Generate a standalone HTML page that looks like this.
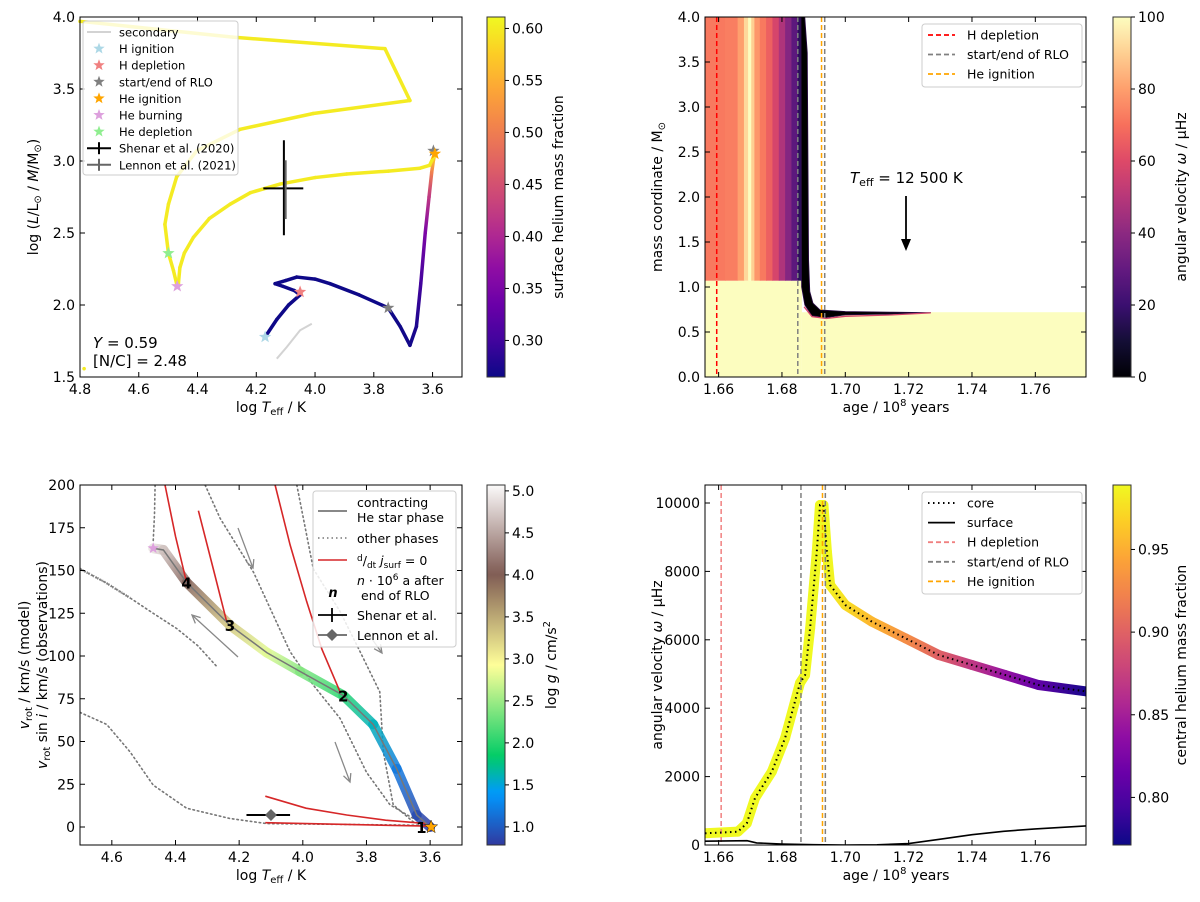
<!DOCTYPE html>
<html><head><meta charset="utf-8"><style>
html,body{margin:0;padding:0;background:#fff;}
svg{display:block;font-family:"DejaVu Sans","Liberation Sans",sans-serif;}
</style></head><body>
<svg id="fig" width="1200" height="902" viewBox="0 0 1200 902" xmlns="http://www.w3.org/2000/svg">
<defs id="defs"></defs>
<g id="gA"></g>
<g id="gB"></g>
<g id="gC"></g>
<g id="gD"></g>
</svg>
<script>
// ---------- Panel A data ----------
var aT=[4.170,4.13,4.09,4.051,4.07,4.11,4.136,4.10,4.062,4.0,3.949,3.85,3.751,3.71,3.677,3.655,3.64,3.625,3.612,3.603,3.597,3.592,3.61,3.643,3.75,3.892,4.0,4.119,4.22,4.289,4.36,4.414,4.445,4.46,4.465,4.469,4.482,4.499,4.511,4.499,4.471,4.403,4.255,4.006,3.677,3.762,4.28,4.8];
var aL=[1.778,1.90,2.00,2.07,2.10,2.13,2.148,2.17,2.194,2.18,2.148,2.07,1.98,1.85,1.72,1.85,2.15,2.5,2.75,2.92,3.005,3.05,2.97,2.95,2.93,2.91,2.885,2.84,2.78,2.70,2.60,2.47,2.36,2.26,2.15,2.13,2.24,2.36,2.56,2.70,2.89,3.07,3.22,3.33,3.42,3.78,3.86,3.97];
var aY=[0.265,0.265,0.265,0.265,0.265,0.265,0.265,0.265,0.265,0.265,0.265,0.265,0.265,0.266,0.268,0.275,0.30,0.35,0.42,0.50,0.56,0.60,0.60,0.60,0.60,0.60,0.60,0.60,0.60,0.60,0.60,0.60,0.60,0.60,0.60,0.60,0.60,0.60,0.60,0.60,0.60,0.60,0.60,0.60,0.60,0.60,0.60,0.60];
var aSecT=[4.130,4.096,4.051,4.011];
var aSecL=[1.627,1.708,1.824,1.87];
var aMarkNames=["H ignition","H depletion","start/end of RLO","start/end of RLO","He ignition","He burning","He depletion"];
var aMarkT=[4.170,4.051,3.751,3.597,3.592,4.469,4.499];
var aMarkL=[1.778,2.09,1.98,3.07,3.05,2.13,2.36];
var aMarkColors=["#add8e6","#f08080","#808080","#808080","#ffa500","#dda0dd","#90ee90"];
var aXTicks=[4.8,4.6,4.4,4.2,4.0,3.8,3.6];
var aYTicks=[1.5,2.0,2.5,3.0,3.5,4.0];
var aCbTicks=[0.30,0.35,0.40,0.45,0.50,0.55,0.60];
// ---------- Panel B data ----------
var bEdges=[1.6557,1.662,1.666,1.668,1.6693,1.6703,1.6713,1.673,1.675,1.677,1.679,1.681,1.683,1.685,1.6863];
var bOmega=[72,73,80,92,100,90,78,72,66,58,48,38,28,16];
var bStripMass=1.07;
var bLowMass=0.72;
var bSlAge=[1.6860,1.6872,1.6880,1.6884,1.6888,1.6898,1.692,1.700,1.715,1.727,1.715,1.700,1.694,1.6895,1.6872,1.6862];
var bSlMass=[4.0,4.0,3.6,1.3,0.95,0.82,0.745,0.728,0.72,0.715,0.70,0.69,0.66,0.68,0.80,1.0];
var bVLines=[1.6594,1.6850,1.6935,1.6925];
var bVColors=["#ff0000","#808080","#808080","#ffa500"];
var bXTicks=[1.66,1.68,1.70,1.72,1.74,1.76];
var bYTicks=[0,0.5,1.0,1.5,2.0,2.5,3.0,3.5,4.0];
var bCbTicks=[0,20,40,60,80,100];
// ---------- Panel C data ----------
var cT=[4.470,4.438,4.365,4.229,4.113,4.009,3.873,3.779,3.705,3.642,3.600];
var cV=[163,162,143,118,102,91,77,60,34,7,0];
var cG=[4.9,4.7,4.05,3.3,2.8,2.4,2.0,1.6,1.2,0.9,0.8];
var cNumT=[3.615,3.873,4.229,4.365];
var cNumV=[0,77,118,143];
var cNumLabels=["1","2","3","4"];
var cRed1T=[4.433,4.40,4.365], cRed1V=[200,170,143];
var cRed2T=[4.328,4.28,4.239], cRed2V=[185,150,120];
var cRed3T=[4.087,4.04,3.988,3.94,3.883], cRed3V=[200,165,132,104,79];
var cRed4T=[4.118,3.99,3.862,3.74,3.611], cRed4V=[18,11,7,4,2];
var cRed5T=[4.118,3.611], cRed5V=[2.5,0.5];
var cDot1T=[4.464,4.466,4.47], cDot1V=[200,183,167];
var cDot2T=[4.7,4.62,4.543,4.47,4.396,4.33,4.271], cDot2V=[151,143,134,125,116,106,94];
var cDot3T=[4.307,4.26,4.155,4.04,3.967,3.883,3.80,3.726,3.653,3.611], cDot3V=[200,180.5,149,102.5,83,63.5,32,13,5,1];
var cDot4T=[4.019,3.967,3.883,3.82,3.758,3.747,3.716,3.653,3.611], cDot4V=[200,151,126,102.5,79,44,13,3,1];
var cDot5T=[4.7,4.616,4.543,4.47,4.365,4.229,4.113,3.611], cDot5V=[67,60,44,24.5,11,5,2,1];
var cXTicks=[4.6,4.4,4.2,4.0,3.8,3.6];
var cYTicks=[0,25,50,75,100,125,150,175,200];
var cCbTicks=[1.0,1.5,2.0,2.5,3.0,3.5,4.0,4.5,5.0];
// ---------- Panel D data ----------
var dAge=[1.6557,1.6661,1.6689,1.6715,1.6768,1.681,1.6841,1.6857,1.6873,1.6889,1.6910,1.6920,1.6931,1.6942,1.6952,1.700,1.7084,1.719,1.7295,1.740,1.7505,1.761,1.7767];
var dCore=[342,390,634,1374,2143,3129,4190,4737,4970,6335,8576,9942,9942,8576,7602,7018,6530,6043,5556,5263,4971,4678,4483];
var dYc=[0.989,0.989,0.989,0.989,0.989,0.989,0.989,0.989,0.989,0.989,0.989,0.989,0.989,0.989,0.985,0.975,0.955,0.93,0.90,0.87,0.84,0.81,0.775];
var dSurfAge=[1.6557,1.669,1.672,1.68,1.69,1.70,1.71,1.72,1.73,1.74,1.75,1.76,1.7767];
var dSurf=[110,125,60,30,10,0,5,40,170,300,400,470,560];
var dVLines=[1.6608,1.6860,1.6937,1.6928];
var dVColors=["#f08080","#808080","#808080","#ffa500"];
var dYTicks=[0,2000,4000,6000,8000,10000];
var dCbTicks=[0.80,0.85,0.90,0.95];

// ---------- scales ----------
function xA(t){return 80+(4.8-t)*293.8;} function yA(l){return 17+(4-l)*144;}
function xB(a){return 705+(a-1.6557)*3167;} function yB(m){return 377-m*90;}
function xC(t){return 80+(4.7-t)*318.3;} function yC(v){return 827-v*1.71;}
function xD(a){return xB(a);} function yD(w){return 845-w*0.0342;}
function ycA(v){return 17+(0.611-v)*1040;} function ycB(v){return 377-v*3.6;}
function ycC(g){return 485+(5.07-g)*84;} function ycD(v){return 485+(0.989-v)*1653;}

// ---------- colormaps ----------
var PLASMA=["#0d0887","#41049d","#6a00a8","#8f0da4","#b12a90","#cc4778","#e16462","#f2844b","#fca636","#fcce25","#f0f921"];
var MAGMA=["#000004","#140e36","#3b0f70","#641a80","#8c2981","#b73779","#de4968","#f7705c","#fe9f6d","#fecf92","#fcfdbf"];
var TERRAIN=[[0,"#333399"],[0.15,"#0099ff"],[0.25,"#00cc66"],[0.5,"#ffff99"],[0.75,"#805c54"],[1,"#ffffff"]];
function hx(c){return [parseInt(c.substr(1,2),16),parseInt(c.substr(3,2),16),parseInt(c.substr(5,2),16)];}
function mixc(a,b,f){var A=hx(a),B=hx(b);return "rgb("+A.map(function(v,i){return Math.round(v+(B[i]-v)*f);}).join(",")+")";}
function cmEven(list,t){t=Math.max(0,Math.min(1,t));var n=list.length-1,i=Math.min(n-1,Math.floor(t*n));return mixc(list[i],list[i+1],t*n-i);}
function cmTerrain(t){t=Math.max(0,Math.min(1,t));for(var i=0;i<TERRAIN.length-1;i++){if(t<=TERRAIN[i+1][0]){return mixc(TERRAIN[i][1],TERRAIN[i+1][1],(t-TERRAIN[i][0])/(TERRAIN[i+1][0]-TERRAIN[i][0]));}}return TERRAIN[5][1];}
function colA(y){return cmEven(PLASMA,(y-0.264)/(0.611-0.264));}
function colB(w){return cmEven(MAGMA,w/100);}
function colC(g){return cmTerrain((g-0.75)/(5.1-0.75));}
function colD(y){return cmEven(PLASMA,(y-0.772)/(0.989-0.772));}

var NS="http://www.w3.org/2000/svg";
var defs=document.getElementById('defs');
function mk(tag,parent,attrs,text){var e=document.createElementNS(NS,tag);for(var k in attrs){e.setAttribute(k,attrs[k]);}if(text!==undefined){e.textContent=text;}parent.appendChild(e);return e;}
var gid=0;
function gradSeg(parent,x1,y1,x2,y2,c1,c2,w,op){
  var id="g"+(gid++);
  var lg=mk('linearGradient',defs,{id:id,gradientUnits:"userSpaceOnUse",x1:x1,y1:y1,x2:x2,y2:y2});
  mk('stop',lg,{offset:0,'stop-color':c1});mk('stop',lg,{offset:1,'stop-color':c2});
  if(Math.abs(x2-x1)<0.01&&Math.abs(y2-y1)<0.01){return null;}
  var l=mk('line',parent,{x1:x1,y1:y1,x2:x2,y2:y2,stroke:(Math.abs(x2-x1)+Math.abs(y2-y1)<0.5?c1:"url(#"+id+")"),'stroke-width':w,'stroke-linecap':'round','stroke-opacity':op||1});
  return l;
}
function polyPts(xs,ys,fx,fy){return xs.map(function(v,i){return fx(v).toFixed(1)+","+fy(ys[i]).toFixed(1);}).join(" ");}
function star(cx,cy,r){var p=[];for(var i=0;i<10;i++){var rr=i%2?r*0.42:r;var a=-Math.PI/2+i*Math.PI/5;p.push((cx+rr*Math.cos(a)).toFixed(1)+","+(cy+rr*Math.sin(a)).toFixed(1));}return p.join(" ");}
function txt(parent,x,y,s,attrs){var a={x:x,y:y,'font-size':14,fill:'#000'};for(var k in attrs){a[k]=attrs[k];}return mk('text',parent,a,s);}

function frame(g,x0,y0,x1,y1,xt,fx,yt,fy,xfmt,yfmt,xlabY){
  var box=mk('rect',g,{x:x0,y:y0,width:x1-x0,height:y1-y0,fill:'none',stroke:'#000','stroke-width':1});
  
  
  xt.forEach(function(v){var x=fx(v);
    mk('line',g,{x1:x,y1:y1,x2:x,y2:y1-5,stroke:'#000'});mk('line',g,{x1:x,y1:y0,x2:x,y2:y0+5,stroke:'#000'});
    var t=txt(g,x,y1+17,xfmt(v),{'text-anchor':'middle'});
    
    
  });
  yt.forEach(function(v){var y=fy(v);
    mk('line',g,{x1:x0,y1:y,x2:x0+5,y2:y,stroke:'#000'});mk('line',g,{x1:x1,y1:y,x2:x1-5,y2:y,stroke:'#000'});
    var t=txt(g,x0-5,y+5,yfmt(v),{'text-anchor':'end'});
    
    
  });
}
function colorbar(g,x0,y0,x1,y1,fcol,vmin,vmax,ticks,fy,fmt,label,lx){
  var id="cb"+(gid++);
  var lg=mk('linearGradient',defs,{id:id,x1:0,y1:1,x2:0,y2:0});
  for(var i=0;i<=40;i++){mk('stop',lg,{offset:i/40,'stop-color':fcol(vmin+(vmax-vmin)*i/40)});}
  var r=mk('rect',g,{x:x0,y:y0,width:x1-x0,height:y1-y0,fill:"url(#"+id+")",stroke:'#333','stroke-width':1});
  
  
  ticks.forEach(function(v){var y=fy(v);mk('line',g,{x1:x1,y1:y,x2:x1+4,y2:y,stroke:'#000'});
    var t=txt(g,x1+7,y+5,fmt(v),{});
    
    
  });
  var cy=(y0+y1)/2;
  var t=mk('text',g,{x:lx,y:cy,'font-size':14,'text-anchor':'middle',transform:'rotate(-90 '+lx+' '+cy+')'});
  t.innerHTML=label;
  
  
}
function f1(v){return v.toFixed(1);} function f2(v){return v.toFixed(2);} function f0(v){return String(v);}

// ================= Panel A =================
(function(){
var g=document.getElementById('gA');
var sec=mk('polyline',g,{points:polyPts(aSecT,aSecL,xA,yA),fill:'none',stroke:'#d3d3d3','stroke-width':2});


var tr=mk('g',g,{});


for(var i=0;i<aT.length-1;i++){gradSeg(tr,xA(aT[i]),yA(aL[i]),xA(aT[i+1]),yA(aL[i+1]),colA(aY[i]),colA(aY[i+1]),3.5);}
var dot=mk('circle',g,{cx:xA(4.786),cy:yA(1.558),r:1.8,fill:colA(0.6)});


var sh=mk('g',g,{stroke:'#000','stroke-width':2});


mk('line',sh,{x1:xA(4.106),y1:yA(3.144),x2:xA(4.106),y2:yA(2.484)});
mk('line',sh,{x1:xA(4.176),y1:yA(2.81),x2:xA(4.04),y2:yA(2.81)});
var le=mk('line',g,{x1:xA(4.10),y1:yA(3.005),x2:xA(4.10),y2:yA(2.597),stroke:'#666','stroke-width':2});


aMarkT.forEach(function(t,i){var s=mk('polygon',g,{points:star(xA(t),yA(aMarkL[i]),6.5),fill:aMarkColors[i]});
  
  });
frame(g,80,17,462,377,aXTicks,xA,aYTicks,yA,f1,f1);
var lg=mk('g',g,{});


mk('rect',lg,{x:83,y:21,width:155,height:154,rx:3,fill:'#fff','fill-opacity':0.8,stroke:'#ccc'});
var names=["secondary","H ignition","H depletion","start/end of RLO","He ignition","He burning","He depletion","Shenar et al. (2020)","Lennon et al. (2021)"];
var cols=["#d3d3d3","#add8e6","#f08080","#808080","#ffa500","#dda0dd","#90ee90","#000","#666"];
names.forEach(function(n,i){var y=32+i*16.6;
  if(i===0){mk('line',lg,{x1:87,y1:y,x2:111,y2:y,stroke:cols[0],'stroke-width':2});}
  else if(i<7){mk('polygon',lg,{points:star(99,y,6),fill:cols[i]});}
  else{mk('line',lg,{x1:87,y1:y,x2:111,y2:y,stroke:cols[i],'stroke-width':2});mk('line',lg,{x1:99,y1:y-6,x2:99,y2:y+6,stroke:cols[i],'stroke-width':2});}
  var t=txt(lg,119,y+4.5,n,{'font-size':11.5});
  
  
});
var t1=mk('text',g,{x:93,y:348,'font-size':15});t1.innerHTML='<tspan font-style="italic">Y</tspan> = 0.59';


var t2=txt(g,93,366,'[N/C] = 2.48',{'font-size':15});


var xl=mk('text',g,{x:271,y:412,'font-size':14,'text-anchor':'middle'});xl.innerHTML='log <tspan font-style="italic">T</tspan><tspan font-size="10" dy="3">eff</tspan><tspan dy="-3"> / K</tspan>';


var yl=mk('text',g,{x:38,y:197,'font-size':14,'text-anchor':'middle',transform:'rotate(-90 38 197)'});yl.innerHTML='log (<tspan font-style="italic">L</tspan>/L<tspan font-size="10" dy="3">⊙</tspan><tspan dy="-3"> / </tspan><tspan font-style="italic">M</tspan>/M<tspan font-size="10" dy="3">⊙</tspan><tspan dy="-3">)</tspan>';


colorbar(g,487,17,505,377,colA,0.264,0.611,aCbTicks,ycA,f2,'surface helium mass fraction',563);
})();

// ================= Panel B =================
(function(){
var g=document.getElementById('gB');
var clip=mk('clipPath',defs,{id:'clipB'});mk('rect',clip,{x:705,y:17,width:381,height:360});
var hm=mk('g',g,{'clip-path':'url(#clipB)'});


var lowA=mk('rect',hm,{x:705,y:yB(bStripMass),width:xB(1.6863)-705,height:377-yB(bStripMass),fill:colB(100)});


var lowB=mk('rect',hm,{x:xB(1.6863),y:yB(bLowMass),width:1090-xB(1.6863),height:377-yB(bLowMass),fill:colB(100)});


for(var i=0;i<bOmega.length;i++){
  var c=mk('rect',hm,{x:xB(bEdges[i]),y:yB(4),width:xB(bEdges[i+1])-xB(bEdges[i])+0.6,height:yB(bStripMass)-yB(4),fill:colB(bOmega[i])});
  
  
}
var sl=mk('polygon',hm,{points:polyPts(bSlAge,bSlMass,xB,yB),fill:'#000',stroke:'#2a0b45','stroke-width':0.8});


var fr=mk('polyline',hm,{points:polyPts([1.687,1.6895,1.694,1.700,1.715,1.727],[0.78,0.67,0.65,0.675,0.69,0.712],xB,yB),fill:'none',stroke:'#d6456c','stroke-width':1.3});


bVLines.forEach(function(a,i){var l=mk('line',g,{x1:xB(a),y1:17,x2:xB(a),y2:377,stroke:bVColors[i],'stroke-width':1.5,'stroke-dasharray':'5,3'});
  
  });
frame(g,705,17,1086,377,bXTicks,xB,bYTicks,yB,f2,f1);
var an=mk('text',g,{x:850,y:183,'font-size':15});an.innerHTML='<tspan font-style="italic">T</tspan><tspan font-size="11" dy="3">eff</tspan><tspan dy="-3"> = 12 500 K</tspan>';


var ar=mk('g',g,{});


mk('line',ar,{x1:906,y1:196,x2:906,y2:242,stroke:'#000','stroke-width':1.8});
mk('polygon',ar,{points:'901,239 911,239 906,251',fill:'#000'});
var lg=mk('g',g,{});


mk('rect',lg,{x:922,y:24,width:160,height:63,rx:3,fill:'#fff','fill-opacity':0.85,stroke:'#ccc'});
["H depletion","start/end of RLO","He ignition"].forEach(function(n,i){var y=35+i*19.5;
  mk('line',lg,{x1:928,y1:y,x2:955,y2:y,stroke:["#ff0000","#808080","#ffa500"][i],'stroke-width':1.8,'stroke-dasharray':'5,3'});
  var t=txt(lg,967,y+4.5,n,{'font-size':12.5});
  
  });
var xl=mk('text',g,{x:896,y:412,'font-size':14,'text-anchor':'middle'});xl.innerHTML='age / 10<tspan font-size="10" dy="-6">8</tspan><tspan dy="6"> years</tspan>';


var yl=mk('text',g,{x:662,y:197,'font-size':14,'text-anchor':'middle',transform:'rotate(-90 662 197)'});yl.innerHTML='mass coordinate / M<tspan font-size="10" dy="3">⊙</tspan>';


colorbar(g,1113,17,1131,377,colB,0,100,bCbTicks,ycB,f0,'angular velocity <tspan font-style="italic">ω</tspan> / μHz',1186);
})();

// ================= Panel C =================
(function(){
var g=document.getElementById('gC');
var clip=mk('clipPath',defs,{id:'clipC'});mk('rect',clip,{x:80,y:485,width:382,height:360});
var pg=mk('g',g,{'clip-path':'url(#clipC)'});
function dotted(xs,ys,name){var p=mk('polyline',pg,{points:polyPts(xs,ys,xC,yC),fill:'none',stroke:'#777','stroke-width':1.6,'stroke-dasharray':'1.5,3','stroke-linecap':'round'});
  
  }
dotted(cDot1T,cDot1V,'other-phase-line');dotted(cDot2T,cDot2V,'other-phase-line');dotted(cDot3T,cDot3V,'other-phase-line');dotted(cDot4T,cDot4V,'other-phase-line');dotted(cDot5T,cDot5V,'other-phase-line');
var thick=mk('polyline',pg,{points:polyPts(cDot2T.slice(0,3),cDot2V.slice(0,3),xC,yC),fill:'none',stroke:'#888','stroke-width':2.5,'stroke-dasharray':'1,1.5'});


var band=mk('g',pg,{});


for(var i=0;i<cT.length-1;i++){gradSeg(band,xC(cT[i]),yC(cV[i]),xC(cT[i+1]),yC(cV[i+1]),colC(cG[i]),colC(cG[i+1]),10,0.85);}
function red(xs,ys){var p=mk('polyline',pg,{points:polyPts(xs,ys,xC,yC),fill:'none',stroke:'#d62728','stroke-width':1.6});
  
  }
red(cRed1T,cRed1V);red(cRed2T,cRed2V);red(cRed3T,cRed3V);red(cRed4T,cRed4V);red(cRed5T,cRed5V);
var cl=mk('polyline',pg,{points:polyPts(cT,cV,xC,yC),fill:'none',stroke:'#777','stroke-width':1.5});


[[238,528,253,568],[238,657,192,615],[367,632,382,653],[335,742,350,782]].forEach(function(a){
  var ag=mk('g',pg,{stroke:'#888','stroke-width':1.3,fill:'none'});
  
  
  mk('line',ag,{x1:a[0],y1:a[1],x2:a[2],y2:a[3]});
  var ang=Math.atan2(a[3]-a[1],a[2]-a[0]);
  var p1=[a[2]-9*Math.cos(ang-0.45),a[3]-9*Math.sin(ang-0.45)],p2=[a[2]-9*Math.cos(ang+0.45),a[3]-9*Math.sin(ang+0.45)];
  mk('polyline',ag,{points:p1.join(",")+" "+a[2]+","+a[3]+" "+p2.join(",")});
});
var s1=mk('polygon',pg,{points:star(xC(4.47),yC(163),6),fill:'#dda0dd'});


var s2=mk('polygon',pg,{points:star(xC(3.597),yC(0),7),fill:'#ffa500',stroke:'#000','stroke-width':0.4});


cNumT.forEach(function(t,i){var n=txt(pg,xC(t)-(i===0?4:0),yC(cNumV[i])+6,cNumLabels[i],{'font-size':15,'font-weight':'bold','text-anchor':'middle'});
  
  });
var ob=mk('g',pg,{});


mk('line',ob,{x1:xC(4.177),y1:yC(7),x2:xC(4.04),y2:yC(7),stroke:'#000','stroke-width':2});
mk('polygon',ob,{points:[xC(4.10),yC(7)-6,xC(4.10)+6,yC(7),xC(4.10),yC(7)+6,xC(4.10)-6,yC(7)].join(","),fill:'#666'});
frame(g,80,485,462,845,cXTicks,xC,cYTicks,yC,f1,f0);
var lg=mk('g',g,{});


mk('rect',lg,{x:313,y:491,width:143,height:156,rx:3,fill:'#fff','fill-opacity':0.85,stroke:'#ccc'});
mk('line',lg,{x1:318,y1:511,x2:347,y2:511,stroke:'#777','stroke-width':1.8});
txt(lg,357,507,'contracting',{'font-size':12.5});txt(lg,357,522,'He star phase',{'font-size':12.5});
mk('line',lg,{x1:318,y1:538,x2:347,y2:538,stroke:'#777','stroke-width':1.6,'stroke-dasharray':'1.5,3'});
txt(lg,357,543,'other phases',{'font-size':12.5});
mk('line',lg,{x1:318,y1:560,x2:347,y2:560,stroke:'#d62728','stroke-width':1.6});
var rt=mk('text',lg,{x:357,y:565,'font-size':12.5});rt.innerHTML='<tspan font-size="9" dy="-4">d</tspan><tspan dy="4">/</tspan><tspan font-size="9" dy="3">dt</tspan><tspan dy="-3" font-style="italic"> j</tspan><tspan font-size="9" dy="3">surf</tspan><tspan dy="-3"> = 0</tspan>';
txt(lg,333,597,'n',{'font-size':13,'font-weight':'bold','font-style':'italic','text-anchor':'middle'});
var nt=mk('text',lg,{x:357,y:585,'font-size':12.5});nt.innerHTML='<tspan font-style="italic">n</tspan> · 10<tspan font-size="9" dy="-5">6</tspan><tspan dy="5"> a after</tspan>';
txt(lg,361,600,'end of RLO',{'font-size':12.5});
mk('line',lg,{x1:318,y1:615,x2:347,y2:615,stroke:'#000','stroke-width':1.8});mk('line',lg,{x1:332,y1:608,x2:332,y2:622,stroke:'#000','stroke-width':1.8});
txt(lg,357,620,'Shenar et al.',{'font-size':12.5});
mk('line',lg,{x1:318,y1:635,x2:347,y2:635,stroke:'#666','stroke-width':1.8});mk('polygon',lg,{points:'332,629 338,635 332,641 326,635',fill:'#666'});
txt(lg,357,640,'Lennon et al.',{'font-size':12.5});
var xl=mk('text',g,{x:271,y:880,'font-size':14,'text-anchor':'middle'});xl.innerHTML='log <tspan font-style="italic">T</tspan><tspan font-size="10" dy="3">eff</tspan><tspan dy="-3"> / K</tspan>';


var y1=mk('text',g,{x:29,y:665,'font-size':14,'text-anchor':'middle',transform:'rotate(-90 29 665)'});y1.innerHTML='<tspan font-style="italic">v</tspan><tspan font-size="10" dy="3">rot</tspan><tspan dy="-3"> / km/s (model)</tspan>';


var y2=mk('text',g,{x:47,y:665,'font-size':14,'text-anchor':'middle',transform:'rotate(-90 47 665)'});y2.innerHTML='<tspan font-style="italic">v</tspan><tspan font-size="10" dy="3">rot</tspan><tspan dy="-3"> sin </tspan><tspan font-style="italic">i</tspan> / km/s (observations)';


colorbar(g,487,485,505,845,colC,0.79,5.07,cCbTicks,ycC,f1,'log <tspan font-style="italic">g</tspan> / cm/s<tspan font-size="10" dy="-6">2</tspan>',556);
})();

// ================= Panel D =================
(function(){
var g=document.getElementById('gD');
var clip=mk('clipPath',defs,{id:'clipD'});mk('rect',clip,{x:705,y:485,width:381,height:360});
var pg=mk('g',g,{'clip-path':'url(#clipD)'});
var band=mk('g',pg,{});


for(var i=0;i<dAge.length-1;i++){gradSeg(band,xD(dAge[i]),yD(dCore[i]),xD(dAge[i+1]),yD(dCore[i+1]),colD(dYc[i]),colD(dYc[i+1]),10);}
dVLines.forEach(function(a,i){var l=mk('line',pg,{x1:xD(a),y1:485,x2:xD(a),y2:845,stroke:dVColors[i],'stroke-width':1.5,'stroke-dasharray':'5,3'});
  
  });
var core=mk('polyline',pg,{points:polyPts(dAge,dCore,xD,yD),fill:'none',stroke:'#000','stroke-width':2,'stroke-dasharray':'1.5,3.5'});


var surf=mk('polyline',pg,{points:polyPts(dSurfAge,dSurf,xD,yD),fill:'none',stroke:'#000','stroke-width':1.6});


frame(g,705,485,1086,845,bXTicks,xD,dYTicks,yD,f2,f0);
var lg=mk('g',g,{});


mk('rect',lg,{x:922,y:492,width:160,height:102,rx:3,fill:'#fff','fill-opacity':0.85,stroke:'#ccc'});
var ln=["core","surface","H depletion","start/end of RLO","He ignition"];
var lc=["#000","#000","#f08080","#808080","#ffa500"];
var ld=["1.5,3.5","","5,3","5,3","5,3"];
ln.forEach(function(n,i){var y=503+i*19.6;
  var a={x1:928,y1:y,x2:955,y2:y,stroke:lc[i],'stroke-width':i===0?2:1.8};if(ld[i]){a['stroke-dasharray']=ld[i];}
  mk('line',lg,a);
  var t=txt(lg,967,y+4.5,n,{'font-size':12.5});
  
  });
var xl=mk('text',g,{x:896,y:880,'font-size':14,'text-anchor':'middle'});xl.innerHTML='age / 10<tspan font-size="10" dy="-6">8</tspan><tspan dy="6"> years</tspan>';


var yl=mk('text',g,{x:662,y:665,'font-size':14,'text-anchor':'middle',transform:'rotate(-90 662 665)'});yl.innerHTML='angular velocity <tspan font-style="italic">ω</tspan> / μHz';


colorbar(g,1113,485,1131,845,colD,0.772,0.989,dCbTicks,ycD,f2,'central helium mass fraction',1186);
})();
</script>
</body></html>
